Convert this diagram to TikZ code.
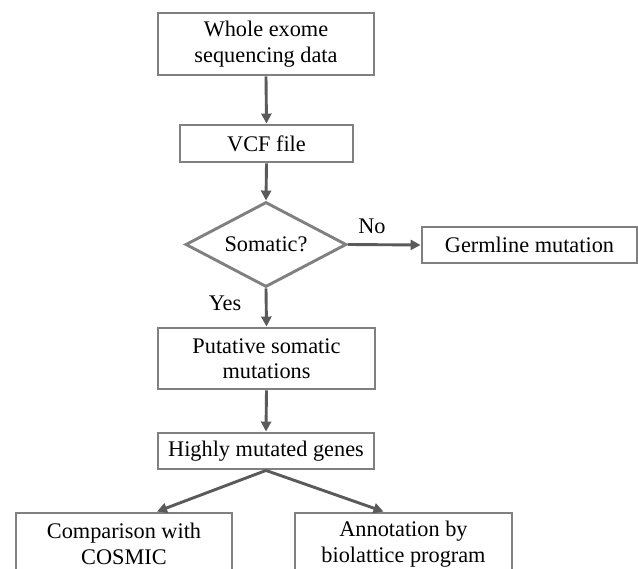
\documentclass[tikz,border=0pt]{standalone}
\usepackage{fontspec}
\setmainfont{Liberation Serif}
\usetikzlibrary{shapes.geometric,arrows.meta}
\definecolor{boxgray}{RGB}{128,128,128}
\definecolor{arrgray}{RGB}{90,90,90}
\begin{document}
\begin{tikzpicture}[x=1pt,y=-1pt,
  every node/.style={font=\fontsize{22.3}{25.5}\selectfont, text=black},
  procbox/.style={draw=boxgray, line width=2.9pt, rectangle, align=center, inner sep=0pt},
  decbox/.style={draw=boxgray, line width=2.9pt, diamond, inner sep=0pt, shape aspect=1.9},
  flow/.style={draw=arrgray, line width=2.9pt, -{Triangle[length=10pt,width=10pt]}},
  lbl/.style={inner sep=0pt}
]
\useasboundingbox (0,0) rectangle (638,569);
\node[procbox, minimum width=216pt, minimum height=62pt] (whole) at (266,44) {Whole exome\\sequencing data};
\node[procbox, minimum width=173pt, minimum height=37pt] (vcf) at (266.5,143.5) {VCF file};
\node[decbox, minimum width=161pt, minimum height=85pt] (som) at (266,244.5) {Somatic?};
\node[procbox, minimum width=215pt, minimum height=36pt] (germ) at (529.5,245) {Germline mutation};
\node[procbox, minimum width=217pt, minimum height=61pt] (puta) at (266.5,358.5) {Putative somatic\\mutations};
\node[procbox, minimum width=216pt, minimum height=36pt] (high) at (266,451) {Highly mutated genes};
\node[procbox, minimum width=216pt, minimum height=62pt] (comp) at (124,544) {Comparison with\\COSMIC};
\node[procbox, minimum width=217pt, minimum height=62pt] (anno) at (403.5,544) {Annotation by\\biolattice program};
\node[lbl] (no) at (372,226) {No};
\node[lbl] (yes) at (225,303) {Yes};
\draw[flow] (whole.south) -- (vcf.north);
\draw[flow] (vcf.south) -- (som.north);
\draw[flow] (som.east) -- (germ.west);
\draw[flow] (som.south) -- (puta.north);
\draw[flow] (puta.south) -- (high.north);
\draw[flow] (high.south) -- ([xshift=33pt]comp.north);
\draw[flow] (high.south) -- ([xshift=-20pt]anno.north);
\end{tikzpicture}
\end{document}
